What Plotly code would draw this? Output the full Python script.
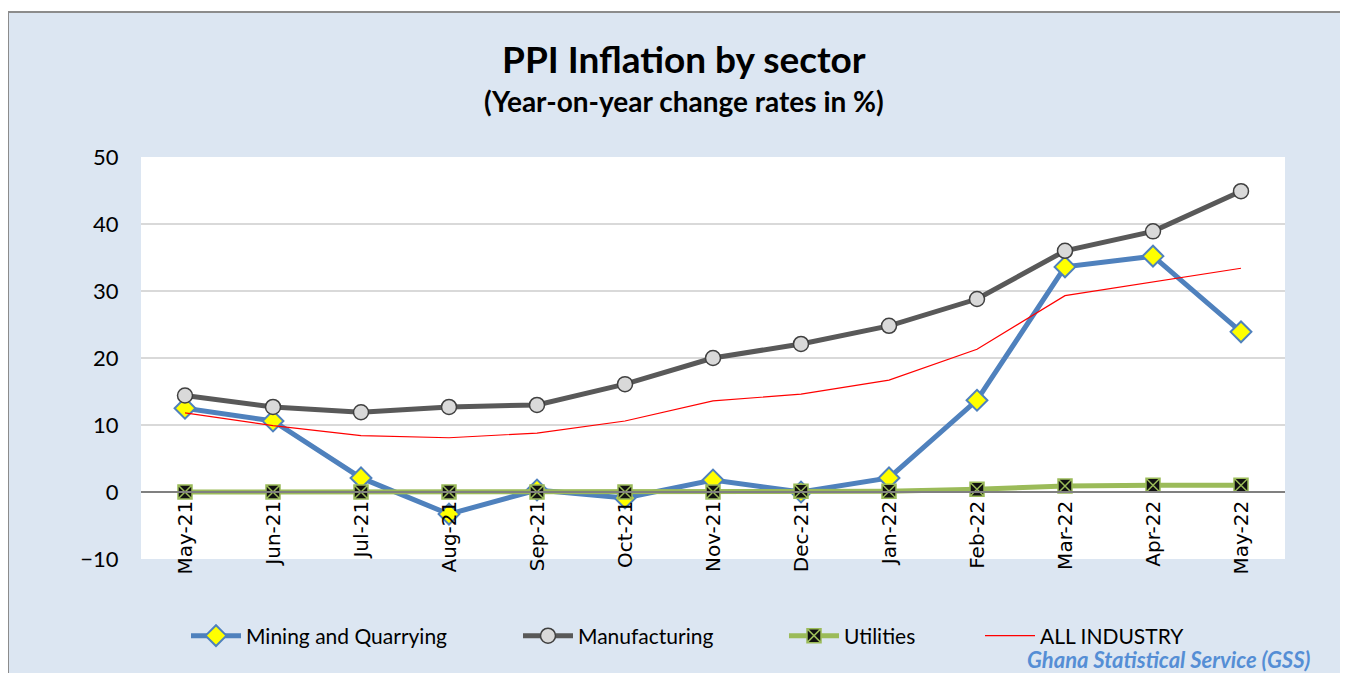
import plotly.graph_objects as go

months = ["May-21", "Jun-21", "Jul-21", "Aug-21", "Sep-21", "Oct-21", "Nov-21",
          "Dec-21", "Jan-22", "Feb-22", "Mar-22", "Apr-22", "May-22"]
mining = [12.5, 10.6, 2.1, -3.3, 0.3, -0.9, 1.8, 0.0, 2.1, 13.7, 33.6, 35.2, 23.9]
manufacturing = [14.4, 12.7, 11.9, 12.7, 13.0, 16.1, 20.0, 22.1, 24.8, 28.8, 36.0, 38.9, 44.9]
utilities = [0.0, 0.0, 0.0, 0.0, 0.0, 0.0, 0.0, 0.1, 0.1, 0.4, 0.9, 1.0, 1.0]
all_industry = [11.8, 9.9, 8.4, 8.1, 8.8, 10.6, 13.6, 14.6, 16.7, 21.3, 29.3, 31.3, 33.4]

FONT = "Lato"

# the page puts the figure 8px in from the top-left corner
OFF = 8
FW, FH = 1348 - OFF, 673 - OFF
# plot area, figure pixels
L, T = 141 - OFF, 157 - OFF
R = FW - (1285 - OFF)
B = FH - (559 - OFF)
W = FW - L - R
H = FH - T - B


def px(x):
    # reference-picture pixel -> paper x
    return (x - OFF - L) / W


def py(y):
    return (FH - B - (y - OFF)) / H


fig = go.Figure()

fig.add_trace(go.Scatter(
    x=months, y=mining, name="Mining and Quarrying", mode="lines+markers",
    line=dict(color="#4F81BD", width=5),
    marker=dict(symbol="diamond", size=16, color="#FFFF00",
                line=dict(color="#4F81BD", width=2)),
    legend="legend"))

fig.add_trace(go.Scatter(
    x=months, y=manufacturing, name="Manufacturing", mode="lines+markers",
    line=dict(color="#595959", width=5),
    marker=dict(symbol="circle", size=15, color="#D9D9D9",
                line=dict(color="#404040", width=1.5)),
    legend="legend2"))

fig.add_trace(go.Scatter(
    x=months, y=utilities, name="Utilities", mode="lines+markers",
    line=dict(color="#9BBB59", width=5),
    marker=dict(symbol="square-x", size=14, color="#111111",
                line=dict(color="#9BBB59", width=1.5)),
    legend="legend3"))

fig.add_trace(go.Scatter(
    x=months, y=all_industry, name="ALL INDUSTRY", mode="lines",
    line=dict(color="#FF0000", width=1.2),
    legend="legend4"))

leg_common = dict(orientation="h", yanchor="middle", y=py(636), xanchor="left",
                  bgcolor="rgba(0,0,0,0)", font=dict(family=FONT, size=21, color="#000000"),
                  itemwidth=50)

fig.update_layout(
    width=FW, height=FH,
    margin=dict(l=L, r=R, t=T, b=B),
    paper_bgcolor="#FFFFFF",
    plot_bgcolor="#FFFFFF",
    font=dict(family=FONT, color="#000000"),
    xaxis=dict(
        type="category", range=[-0.5, 12.5],
        anchor="free", position=1 / 6,
        showgrid=False, zeroline=False,
        showline=True, linecolor="#808080", linewidth=1.5,
        tickangle=-90, tickfont=dict(family="DejaVu Sans", size=20, color="#000000"),
        ticks="", ticklen=0,
    ),
    yaxis=dict(
        range=[-10, 50], dtick=10,
        showgrid=True, gridcolor="#D9D9D9", gridwidth=1.5,
        zeroline=False, showline=False,
        tickfont=dict(family=FONT, size=22, color="#000000"),
        ticks="outside", ticklen=17, tickcolor="rgba(0,0,0,0)",
    ),
    legend=dict(leg_common, x=px(186)),
    legend2=dict(leg_common, x=px(518)),
    legend3=dict(leg_common, x=px(784)),
    legend4=dict(leg_common, x=px(980)),
    shapes=[
        dict(type="rect", xref="paper", yref="paper", layer="below",
             x0=px(8), x1=px(1365), y0=py(690), y1=py(12),
             fillcolor="#DCE6F2", line=dict(color="#8C8C8C", width=2)),
        dict(type="rect", xref="x domain", yref="y domain", layer="below",
             x0=0, x1=1, y0=0, y1=1, fillcolor="#FFFFFF", line=dict(width=0)),
    ],
    annotations=[
        dict(text="<b>PPI Inflation by sector</b>", xref="paper", yref="paper",
             x=px(684), y=py(58), yanchor="middle", showarrow=False,
             font=dict(family=FONT, size=37, color="#000000")),
        dict(text="<b>(Year-on-year change rates in %)</b>", xref="paper", yref="paper",
             x=px(684), y=py(101), yanchor="middle", showarrow=False,
             font=dict(family=FONT, size=28, color="#000000")),
        dict(text="<b><i>Ghana Statistical Service (GSS)</i></b>", xref="paper", yref="paper",
             x=px(1312), y=py(659), xanchor="right", yanchor="middle", showarrow=False,
             font=dict(family=FONT, size=22, color="#558ED5")),
    ],
    showlegend=True,
)

fig.write_html("out.html")
